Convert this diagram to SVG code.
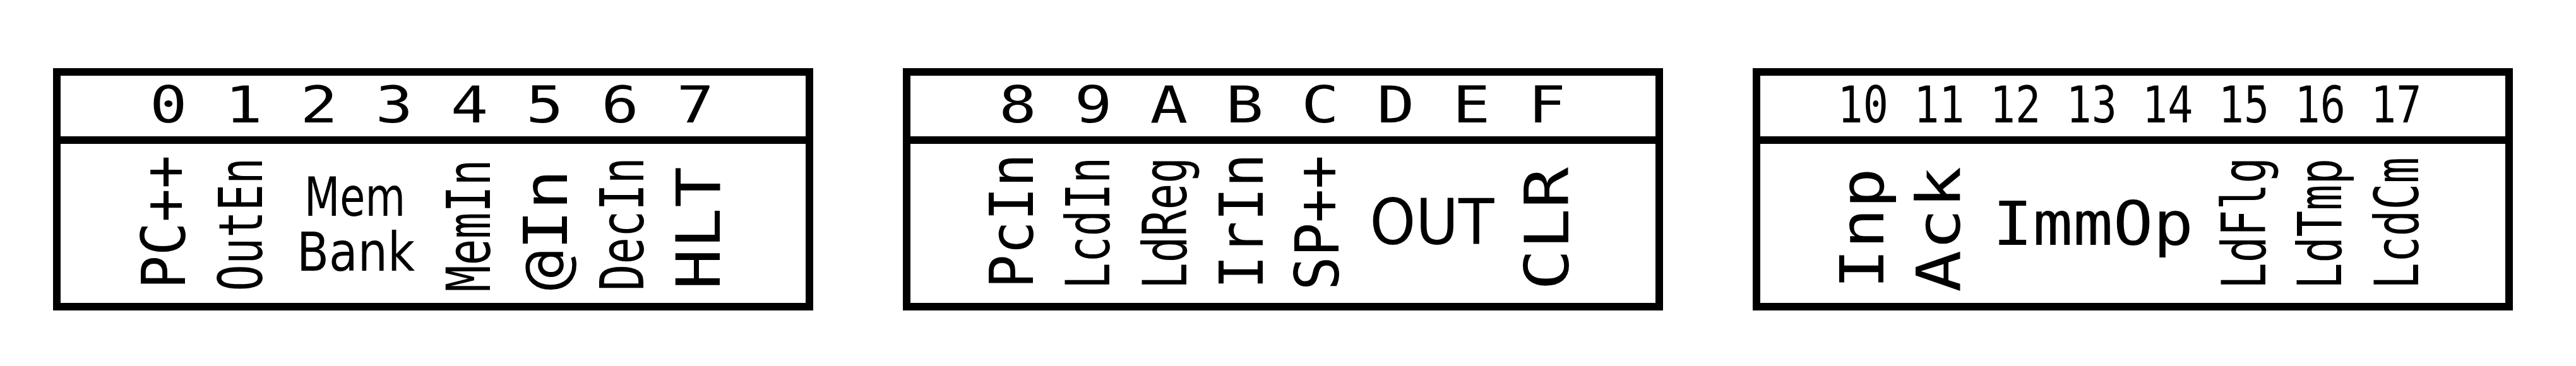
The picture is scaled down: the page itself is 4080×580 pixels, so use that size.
<svg xmlns="http://www.w3.org/2000/svg" width="4080" height="580" viewBox="0 0 4080 580">
<style>
.box{fill:#fff;stroke:#000;stroke-width:12}
.div{stroke:#000;stroke-width:12}
.hdr{font-family:"DejaVu Sans Mono","Liberation Mono",monospace;font-size:80px;fill:#000;text-anchor:middle}
.v{font-family:"DejaVu Sans Mono","Liberation Mono",monospace;font-size:97px;fill:#000;text-anchor:middle}
.h{font-family:"DejaVu Sans","Liberation Sans",sans-serif;fill:#000;text-anchor:middle}
.hm{font-family:"DejaVu Sans Mono","Liberation Mono",monospace;font-size:97px;fill:#000;text-anchor:middle}
</style>
<rect width="4080" height="580" fill="#fff"/>
<g id="connectors"></g>
<g id="reg0">
<rect class="box" x="90" y="114" width="1192" height="372"/>
<line class="div" x1="90" y1="222" x2="1282" y2="222"/>
<text class="hdr" x="684" y="194" textLength="894" lengthAdjust="spacingAndGlyphs">0 1 2 3 4 5 6 7</text>
<text class="v" transform="translate(293,352) rotate(-90)" textLength="212" lengthAdjust="spacingAndGlyphs">PC++</text>
<text class="v" transform="translate(415,355.5) rotate(-90)" textLength="212" lengthAdjust="spacingAndGlyphs">OutEn</text>
<text class="h" font-size="86"><tspan x="562" y="342" textLength="160" lengthAdjust="spacingAndGlyphs">Mem</tspan><tspan x="563.5" y="429" textLength="187" lengthAdjust="spacingAndGlyphs">Bank</tspan></text>
<text class="v" transform="translate(776,357.5) rotate(-90)" textLength="210" lengthAdjust="spacingAndGlyphs">MemIn</text>
<text class="v" transform="translate(898,364.5) rotate(-90)" textLength="192" lengthAdjust="spacingAndGlyphs">@In</text>
<text class="v" transform="translate(1019,355) rotate(-90)" textLength="212" lengthAdjust="spacingAndGlyphs">DecIn</text>
<text class="v" transform="translate(1140,361.5) rotate(-90)" textLength="195" lengthAdjust="spacingAndGlyphs">HLT</text>
</g>
<g id="reg1">
<rect class="box" x="1436" y="114" width="1192" height="372"/>
<line class="div" x1="1436" y1="222" x2="2628" y2="222"/>
<text class="hdr" x="2031" y="194" textLength="898" lengthAdjust="spacingAndGlyphs">8 9 A B C D E F</text>
<text class="v" transform="translate(1636,350) rotate(-90)" textLength="214" lengthAdjust="spacingAndGlyphs">PcIn</text>
<text class="v" transform="translate(1757,353.5) rotate(-90)" textLength="209" lengthAdjust="spacingAndGlyphs">LcdIn</text>
<text class="v" transform="translate(1879,353.5) rotate(-90)" textLength="209" lengthAdjust="spacingAndGlyphs">LdReg</text>
<text class="v" transform="translate(2000,350.5) rotate(-90)" textLength="215" lengthAdjust="spacingAndGlyphs">IrIn</text>
<text class="v" transform="translate(2120,353) rotate(-90)" textLength="214" lengthAdjust="spacingAndGlyphs">SP++</text>
<text class="h" x="2268" y="387" font-size="100" textLength="197" lengthAdjust="spacingAndGlyphs">OUT</text>
<text class="v" transform="translate(2484,362.5) rotate(-90)" textLength="195" lengthAdjust="spacingAndGlyphs">CLR</text>
</g>
<g id="reg2">
<rect class="box" x="2782" y="114" width="1192" height="372"/>
<line class="div" x1="2782" y1="222" x2="3974" y2="222"/>
<text class="hdr" x="3373" y="194" textLength="925" lengthAdjust="spacingAndGlyphs">10 11 12 13 14 15 16 17</text>
<text class="v" transform="translate(2983,362) rotate(-90)" textLength="192" lengthAdjust="spacingAndGlyphs">Inp</text>
<text class="v" transform="translate(3104,363.5) rotate(-90)" textLength="199" lengthAdjust="spacingAndGlyphs">Ack</text>
<text class="hm" x="3315" y="388" textLength="318" lengthAdjust="spacingAndGlyphs">ImmOp</text>
<text class="v" transform="translate(3588,353.5) rotate(-90)" textLength="209" lengthAdjust="spacingAndGlyphs">LdFlg</text>
<text class="v" transform="translate(3708,354.5) rotate(-90)" textLength="207" lengthAdjust="spacingAndGlyphs">LdTmp</text>
<text class="v" transform="translate(3830,353.5) rotate(-90)" textLength="209" lengthAdjust="spacingAndGlyphs">LcdCm</text>
</g>
</svg>
